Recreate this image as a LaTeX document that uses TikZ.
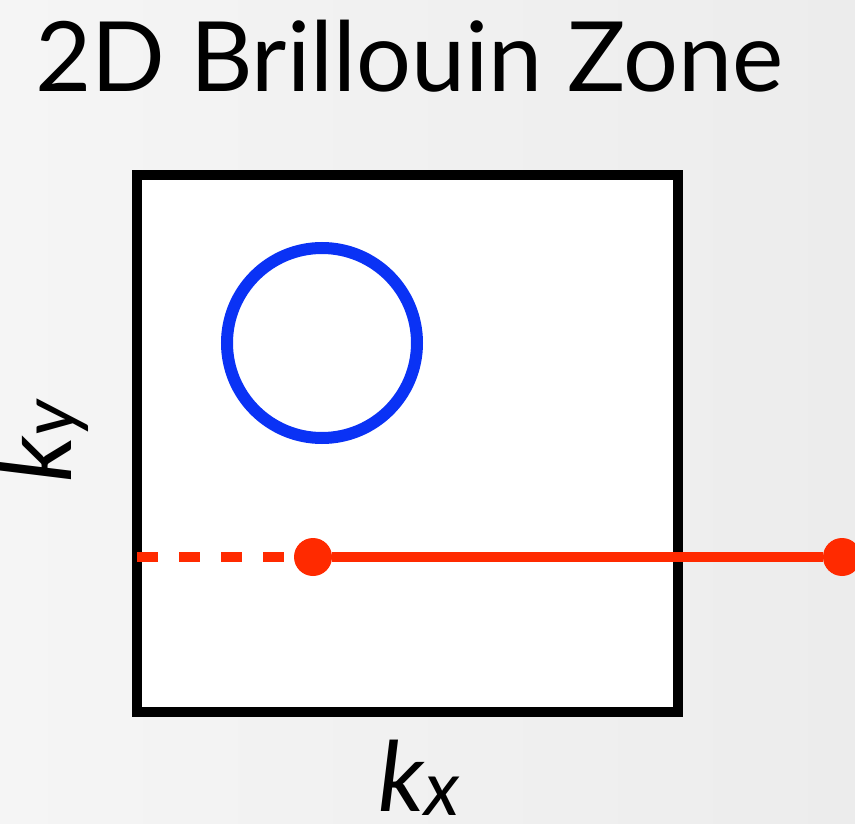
\documentclass[tikz,border=0pt]{standalone}
\usepackage{fontspec}
\setmainfont{Lato}
\usetikzlibrary{positioning}
\definecolor{bzred}{HTML}{FF2A00}
\definecolor{bzblue}{HTML}{0A32F5}
\definecolor{bgleft}{HTML}{F5F5F5}
\definecolor{bgright}{HTML}{ECECEC}

\begin{document}
\begin{tikzpicture}[x=1pt,y=-1pt, every node/.style={font=\fontsize{97}{110}\selectfont}]
  \useasboundingbox (0,0) rectangle (855,824);
  \clip (0,0) rectangle (855,824);
  \shade[left color=bgleft,right color=bgright] (0,0) rectangle (855,824);
  % title
  \node[anchor=base west,inner sep=0pt] (title) at (35,92) {2D Brillouin Zone};
  % zone
  \draw[line width=10pt,fill=white] (137,175) rectangle (678,712);
  \node[circle,draw=bzblue,line width=12pt,minimum size=190pt,inner sep=0pt] (fs) at (322,343) {};
  % cut
  \coordinate (edge) at (137,557);
  \node[circle,fill=bzred,minimum size=38pt,inner sep=0pt] (ka) at (313,557) {};
  \node[circle,fill=bzred,minimum size=38pt,inner sep=0pt] (kb) at (842,557) {};
  \draw[bzred,line width=10pt,dash pattern=on 21pt off 21pt] (edge) -- (ka);
  \draw[bzred,line width=10pt] (ka) -- (kb);
  % axes
  \node[anchor=base,inner sep=0pt] (kx) at (419,811) {\itshape k\raisebox{-4pt}{\fontsize{76}{80}\selectfont x}};
  \node[anchor=base,inner sep=0pt,rotate=90] (ky) at (71,441) {\itshape k\raisebox{-4pt}{\fontsize{76}{80}\selectfont y}};
\end{tikzpicture}
\end{document}
